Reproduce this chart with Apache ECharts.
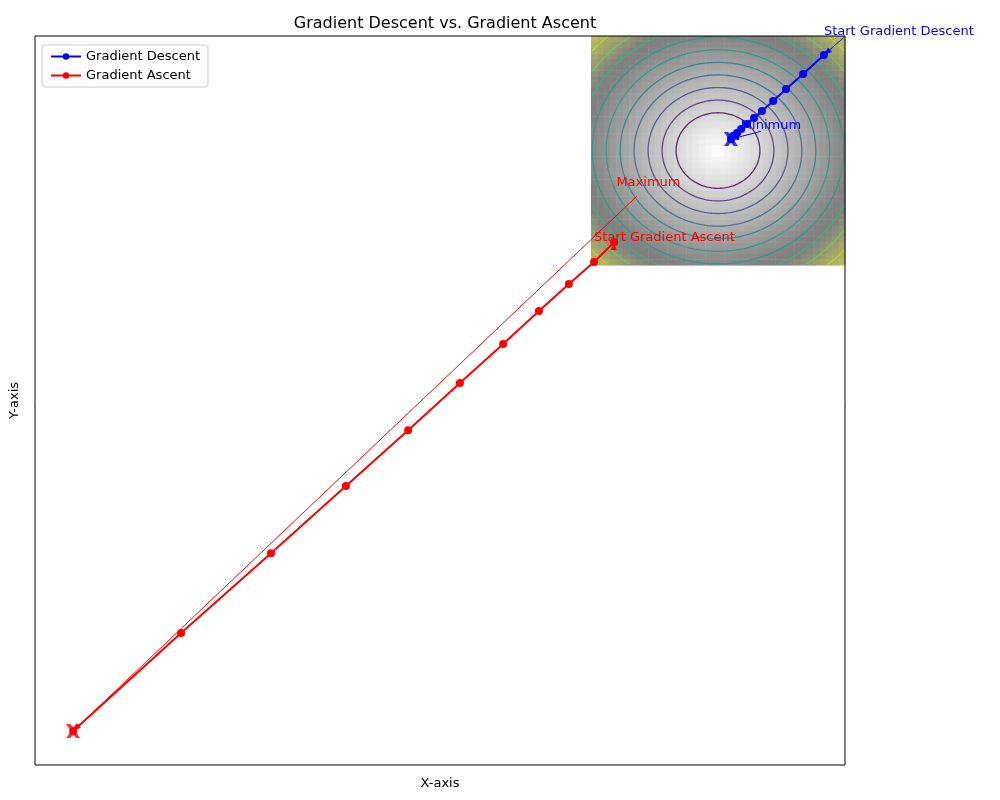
<!DOCTYPE html>
<html><head><meta charset="utf-8">
<script src="https://cdn.jsdelivr.net/npm/echarts@6/dist/echarts.min.js"></script>
<style>body{margin:0}#c{width:1000px;height:800px}</style></head>
<body><div id="c"></div>
<script>
const descentX = [4.17, 3.35, 2.68, 2.17, 1.73, 1.42, 1.14, 0.91, 0.75, 0.59, 0.51];
const descentY = [4.17, 3.34, 2.69, 2.16, 1.72, 1.42, 1.16, 0.94, 0.76, 0.63, 0.50];
const ascentX = [-4.09, -4.88, -5.87, -7.05, -8.46, -10.16, -12.20, -14.65, -17.60, -21.14, -25.39];
const ascentY = [-4.00, -4.87, -5.83, -7.01, -8.45, -10.15, -12.21, -14.65, -17.58, -21.07, -25.35];
const contourRadii = [1.65, 2.2, 2.75, 3.3, 3.85, 4.4, 4.95, 5.5, 6.05, 6.6, 7.15];
const contourLabels = ['1','2','3','4','5','6','7','8','9','10','11'];
const regionMin = -5, regionMax = 5;

const viridis = ['#440154','#482878','#3e4989','#31688e','#26828e','#1f9e89','#35b779','#6ece58','#b5de2b','#fde725'];
function vcol(t){const i=Math.min(viridis.length-1,Math.max(0,Math.round(t*(viridis.length-1))));return viridis[i];}

// background cells
const cells=[];const step=0.25;
for(let x=regionMin;x<regionMax;x+=step)for(let y=regionMin;y<regionMax;y+=step){cells.push([x,y,Math.hypot(x+step/2,y+step/2)]);}
function bgColor(r){
  if(r>5.6){const t=Math.min(1,(r-5.6)/1.4);return `rgb(${Math.round(128+60*t)},${Math.round(132+60*t)},${Math.round(128-40*t)})`;}
  const g=Math.round(255-127*Math.min(1,r/5.2));return `rgb(${g},${g},${g})`;
}
const series=[];
series.push({type:'custom',silent:true,z:1,data:cells,renderItem:(p,api)=>{
  const a=api.coord([api.value(0),api.value(1)+step]);const b=api.coord([api.value(0)+step,api.value(1)]);
  return {type:'rect',shape:{x:a[0],y:a[1],width:b[0]-a[0]+0.5,height:b[1]-a[1]+0.5},style:{fill:bgColor(api.value(2))}};
}});
contourRadii.forEach((r,k)=>{
  const pts=[];
  for(let i=0;i<=360;i++){const t=i*Math.PI/180;const x=r*Math.cos(t),y=r*Math.sin(t);
    pts.push((x<regionMin||x>regionMax||y<regionMin||y>regionMax)?['-','-']:[x,y]);}
  series.push({type:'line',data:pts,showSymbol:false,silent:true,z:2,connectNulls:false,
    lineStyle:{color:vcol(k/(contourRadii.length-1)),width:1.3,opacity:0.8}});
});
const xSym='path://M0,0 L3,0 L5,2.5 L7,0 L10,0 L6.5,5 L10,10 L7,10 L5,7.5 L3,10 L0,10 L3.5,5 Z';
const descent=descentX.map((x,i)=>[x,descentY[i]]);
const ascent=ascentX.map((x,i)=>[x,ascentY[i]]);
series.push({name:'Gradient Descent',type:'line',data:descent,z:5,symbol:'circle',symbolSize:8,color:'#0000ff',lineStyle:{width:2}});
series.push({name:'Gradient Ascent',type:'line',data:ascent,z:5,symbol:'circle',symbolSize:8,color:'#ff0000',lineStyle:{width:2}});
series.push({type:'scatter',data:[descent[descent.length-1]],symbol:xSym,symbolSize:14,itemStyle:{color:'#0000ff'},z:6});
series.push({type:'scatter',data:[ascent[ascent.length-1]],symbol:xSym,symbolSize:14,itemStyle:{color:'#ff0000'},z:6});

const chart=echarts.init(document.getElementById('c'));
chart.setOption({
  animation:false,
  title:{text:'Gradient Descent vs. Gradient Ascent',left:440,top:11,textAlign:'center',textStyle:{fontFamily:'DejaVu Sans',fontWeight:'normal',fontSize:16,color:'#000'}},
  legend:{data:['Gradient Descent','Gradient Ascent'],orient:'vertical',left:42,top:45,itemGap:6,itemWidth:30,itemHeight:8,
    backgroundColor:'#fff',borderColor:'#ccc',borderWidth:1,borderRadius:3,padding:[5,8],
    textStyle:{fontFamily:'DejaVu Sans',fontSize:13,color:'#000'}},
  grid:{left:35,right:155,top:36,bottom:35,show:true,borderColor:'#000',borderWidth:1,z:10},
  xAxis:{type:'value',min:-26.89,max:5,name:'X-axis',nameLocation:'middle',nameGap:12,
    nameTextStyle:{fontFamily:'DejaVu Sans',fontSize:13,color:'#000'},
    axisLine:{show:false},axisTick:{show:false},axisLabel:{show:false},splitLine:{show:false}},
  yAxis:{type:'value',min:-26.83,max:5,name:'Y-axis',nameLocation:'middle',nameGap:14,
    nameTextStyle:{fontFamily:'DejaVu Sans',fontSize:13,color:'#000'},
    axisLine:{show:false},axisTick:{show:false},axisLabel:{show:false},splitLine:{show:false}},
  series
});
// annotations
const ann=[
  {text:'Start Gradient Descent',at:[4.17,5.2],to:descent[0],color:'#0000ff'},
  {text:'Minimum',at:[0.9,1.1],to:descent[descent.length-1],color:'#0000ff'},
  {text:'Maximum',at:[-4.0,-1.4],to:ascent[ascent.length-1],color:'#ff0000',from:[-3.2,-2.0]},
  {text:'Start Gradient Ascent',at:[-4.88,-3.8],to:ascent[0],color:'#ff0000'}
];
const g=[];
ann.forEach(a=>{
  const p=chart.convertToPixel('grid',a.at);const q=chart.convertToPixel('grid',a.to);
  const f=a.from?chart.convertToPixel('grid',a.from):[p[0]+20,p[1]+6];
  g.push({type:'line',z:20,shape:{x1:f[0],y1:f[1],x2:q[0],y2:q[1]},style:{stroke:a.color,lineWidth:1}});
  const ang=Math.atan2(q[1]-f[1],q[0]-f[0]);const L=8,W=3;
  g.push({type:'polygon',z:20,shape:{points:[[q[0],q[1]],[q[0]-L*Math.cos(ang)+W*Math.sin(ang),q[1]-L*Math.sin(ang)-W*Math.cos(ang)],[q[0]-L*Math.cos(ang)-W*Math.sin(ang),q[1]-L*Math.sin(ang)+W*Math.cos(ang)]]},style:{fill:a.color}});
  g.push({type:'text',z:21,x:p[0],y:p[1],style:{text:a.text,fill:a.color,font:'13px DejaVu Sans',textVerticalAlign:'middle'}});
});
g.push({type:'text',left:10,top:0,style:{text:''}});
chart.setOption({graphic:g});
</script></body></html>
